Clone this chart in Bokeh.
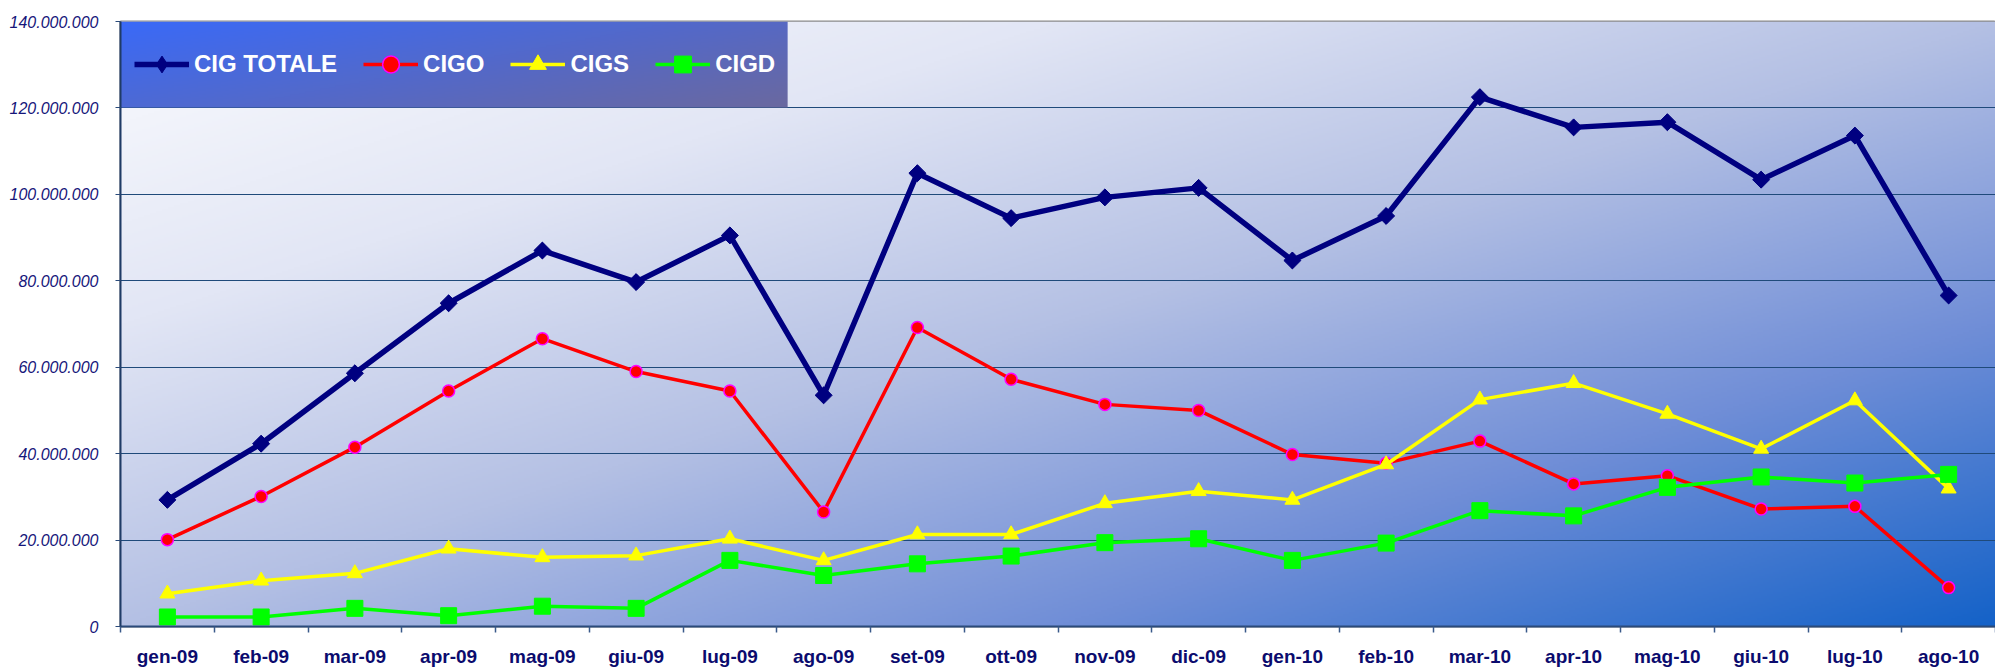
import numpy as np
from bokeh.plotting import figure
from bokeh.models import FixedTicker, Range1d, Legend, LegendItem
from bokeh.embed import file_html
from bokeh.resources import INLINE

# ---------------- data ----------------
months = ["gen-09", "feb-09", "mar-09", "apr-09", "mag-09", "giu-09", "lug-09",
          "ago-09", "set-09", "ott-09", "nov-09", "dic-09", "gen-10", "feb-10",
          "mar-10", "apr-10", "mag-10", "giu-10", "lug-10", "ago-10"]

cig_totale = [29.3, 42.3, 58.6, 74.8, 87.0, 79.7, 90.5, 53.5, 104.9, 94.5,
              99.3, 101.5, 84.7, 95.0, 122.5, 115.5, 116.7, 103.4, 113.6, 76.6]
cigo = [20.1, 30.1, 41.5, 54.5, 66.6, 59.0, 54.5, 26.5, 69.2, 57.2,
        51.4, 50.0, 39.8, 37.8, 42.9, 33.0, 34.9, 27.2, 27.8, 9.0]
cigs = [7.6, 10.6, 12.3, 18.0, 16.0, 16.4, 20.3, 15.3, 21.3, 21.3,
        28.5, 31.3, 29.3, 37.5, 52.5, 56.3, 49.2, 41.1, 52.3, 31.9]
cigd = [2.2, 2.2, 4.2, 2.5, 4.7, 4.2, 15.3, 11.8, 14.5, 16.3,
        19.4, 20.3, 15.3, 19.3, 26.8, 25.6, 32.2, 34.6, 33.2, 35.2]

series_names = ["CIG TOTALE", "CIGO", "CIGS", "CIGD"]

y_ticks = [0, 20000000, 40000000, 60000000, 80000000, 100000000, 120000000, 140000000]
y_tick_labels = ["0", "20.000.000", "40.000.000", "60.000.000", "80.000.000",
                 "100.000.000", "120.000.000", "140.000.000"]

MILLION = 1000000
x = list(range(len(months)))

# ---------------- figure ----------------
FONT = "Liberation Sans"
p = figure(width=1995, height=669, output_backend="svg", toolbar_location=None,
           x_range=Range1d(-0.5, 19.5), y_range=Range1d(0, 140000000),
           min_border_left=120, min_border_top=21, min_border_right=0,
           min_border_bottom=43)
p.background_fill_color = "white"
p.border_fill_color = "white"
p.outline_line_color = "#8a8a8a"
p.outline_line_width = 2


def gradient(H, W, stops, colors, wu=0.5, wv=0.5):
    u = np.linspace(0, 1, W)[None, :]
    v = np.linspace(1, 0, H)[:, None]  # row 0 is the bottom
    t = wu * u + wv * v
    img = np.empty((H, W), dtype=np.uint32)
    view = img.view(dtype=np.uint8).reshape((H, W, 4))
    cols = np.array(colors, dtype=float)
    for c in range(3):
        view[:, :, c] = np.interp(t, stops, cols[:, c]).astype(np.uint8)
    view[:, :, 3] = 255
    return img


# plot-area background gradient
bg = gradient(303, 938, [0.0, 0.25, 0.5, 0.75, 1.0],
              [(250, 251, 254), (226, 230, 245), (180, 192, 228),
               (112, 142, 215), (20, 98, 200)])
p.image_rgba(image=[bg], x=-0.5, y=0, dw=20, dh=140000000, level="image")

# legend box gradient
lg = gradient(60, 400, [0.0, 1.0], [(58, 106, 248), (106, 104, 160)], 0.6, 0.4)
p.image_rgba(image=[lg], x=-0.52, y=140000000 - 86 / 605 * 140000000,
             dw=669 / 93.75, dh=86 / 605 * 140000000)

# ---------------- series ----------------
def scaled(vals):
    return [v * MILLION for v in vals]

l1 = p.line(x, scaled(cig_totale), line_color="#000080", line_width=5.5)
# narrow diamond (used as the legend symbol), hidden under the rotated square
s1_leg = p.scatter(x, scaled(cig_totale), marker="diamond", size=16,
                   fill_color="#000080", line_color="#000080")
s1 = p.scatter(x, scaled(cig_totale), marker="square", angle=np.pi / 4, size=12,
               fill_color="#000080", line_color="#000080")
l2 = p.line(x, scaled(cigo), line_color="#ff0000", line_width=3.5)
s2 = p.scatter(x, scaled(cigo), marker="circle", size=12,
               fill_color="#ff0000", line_color="#ff00ff", line_width=1.5)
l3 = p.line(x, scaled(cigs), line_color="#ffff00", line_width=3.5)
s3 = p.scatter(x, scaled(cigs), marker="triangle", size=15,
               fill_color="#ffff00", line_color="#ffff00")
l4 = p.line(x, scaled(cigd), line_color="#00ff00", line_width=3.5)
s4 = p.scatter(x, scaled(cigd), marker="square", size=16,
               fill_color="#00ff00", line_color="#00ff00")

legend = Legend(items=[LegendItem(label=series_names[0], renderers=[l1, s1_leg]),
                       LegendItem(label=series_names[1], renderers=[l2, s2]),
                       LegendItem(label=series_names[2], renderers=[l3, s3]),
                       LegendItem(label=series_names[3], renderers=[l4, s4])],
                orientation="horizontal", location="top_left", margin=0, padding=14,
                spacing=26, glyph_width=55, glyph_height=42, label_height=58,
                label_standoff=5, label_text_font=FONT, label_text_font_style="bold",
                label_text_font_size="24px", label_text_color="white",
                background_fill_alpha=0, border_line_alpha=0)
p.add_layout(legend)

# ---------------- axes & grid ----------------
p.xgrid.visible = False
p.ygrid.ticker = FixedTicker(ticks=y_ticks)
p.ygrid.grid_line_color = "#1f4a7a"
p.ygrid.grid_line_width = 1.2

p.xaxis.ticker = FixedTicker(ticks=x, minor_ticks=[i - 0.5 for i in range(len(months) + 1)])
p.xaxis.major_label_overrides = {i: m for i, m in enumerate(months)}
p.xaxis.major_tick_line_color = None
p.xaxis.major_tick_out = 0
p.xaxis.major_tick_in = 0
p.xaxis.minor_tick_out = 6
p.xaxis.minor_tick_in = 0
p.xaxis.minor_tick_line_color = "#3a5a8a"
p.xaxis.minor_tick_line_width = 1.5
p.xaxis.axis_line_color = "#2a4a7a"
p.xaxis.axis_line_width = 2
p.xaxis.major_label_standoff = 13
p.xaxis.major_label_text_font = FONT
p.xaxis.major_label_text_font_style = "bold"
p.xaxis.major_label_text_font_size = "19px"
p.xaxis.major_label_text_color = "#0b0b6e"

p.yaxis.ticker = FixedTicker(ticks=y_ticks)
p.yaxis.major_label_overrides = dict(zip(y_ticks, y_tick_labels))
p.yaxis.minor_tick_line_color = None
p.yaxis.major_tick_out = 5
p.yaxis.major_tick_in = 0
p.yaxis.major_tick_line_color = "#2a4a7a"
p.yaxis.axis_line_color = "#1f3b66"
p.yaxis.axis_line_width = 2
p.yaxis.major_label_standoff = 17
p.yaxis.major_label_text_font = FONT
p.yaxis.major_label_text_font_style = "italic"
p.yaxis.major_label_text_font_size = "16px"
p.yaxis.major_label_text_color = "#16167a"

open("out.html", "w").write(file_html(p, INLINE))
